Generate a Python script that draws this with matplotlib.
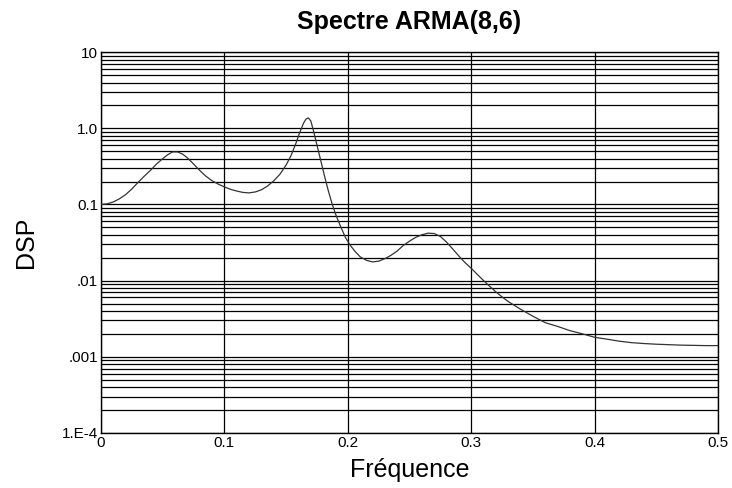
import matplotlib.pyplot as plt
import numpy as np
from matplotlib.ticker import FixedLocator, LogLocator, NullFormatter

plt.rcParams['font.family'] = ['Liberation Sans', 'DejaVu Sans']

# spectre
freq = [0.000, 0.005, 0.010, 0.015, 0.020, 0.025, 0.030, 0.035, 0.040, 0.045,
        0.050, 0.054, 0.058, 0.062, 0.066, 0.070, 0.075, 0.080, 0.085, 0.090,
        0.095, 0.100, 0.105, 0.110, 0.115, 0.120, 0.125, 0.130, 0.135, 0.140,
        0.145, 0.150, 0.154, 0.158, 0.161, 0.164, 0.166, 0.168, 0.170, 0.172,
        0.175, 0.178, 0.181, 0.184, 0.187, 0.190, 0.194, 0.198, 0.202, 0.206,
        0.210, 0.215, 0.220, 0.225, 0.230, 0.235, 0.240, 0.245, 0.250, 0.255,
        0.260, 0.265, 0.270, 0.275, 0.280, 0.285, 0.290, 0.295, 0.300, 0.305,
        0.310, 0.315, 0.320, 0.325, 0.330, 0.340, 0.350, 0.360, 0.370, 0.380,
        0.390, 0.400, 0.410, 0.420, 0.430, 0.440, 0.450, 0.460, 0.470, 0.480,
        0.490, 0.500]
dsp = [0.100, 0.102, 0.108, 0.119, 0.135, 0.160, 0.195, 0.235, 0.28, 0.34,
       0.40, 0.45, 0.49, 0.49, 0.46, 0.41, 0.34, 0.28, 0.235, 0.205,
       0.185, 0.170, 0.158, 0.150, 0.144, 0.142, 0.146, 0.156, 0.175, 0.205,
       0.25, 0.33, 0.44, 0.64, 0.88, 1.16, 1.32, 1.37, 1.25, 0.95,
       0.60, 0.38, 0.24, 0.155, 0.105, 0.075, 0.052, 0.037, 0.029, 0.024,
       0.0205, 0.0185, 0.0176, 0.0180, 0.0194, 0.0215, 0.0245, 0.029, 0.033, 0.037,
       0.040, 0.042, 0.0415, 0.038, 0.032, 0.026, 0.021, 0.0172, 0.0145, 0.0120,
       0.0100, 0.0084, 0.0071, 0.0061, 0.0053, 0.0042, 0.0034, 0.0028, 0.0025, 0.0022,
       0.0020, 0.0018, 0.0017, 0.0016, 0.00153, 0.00149, 0.00146, 0.00144, 0.00142, 0.00141,
       0.00140, 0.00140]

xticks = [0, 0.1, 0.2, 0.3, 0.4, 0.5]
xlabels = ['0', '0.1', '0.2', '0.3', '0.4', '0.5']
yticks = [1e-4, 1e-3, 1e-2, 1e-1, 1, 10]
ylabels = ['1.E-4', '.001', '.01', '0.1', '1.0', '10']

fig = plt.figure(facecolor='white', figsize=(7.32, 4.88), dpi=100)
ax = fig.add_axes([0.138, 0.113, 0.843, 0.780])

ax.set_yscale('log')
ax.set_xlim(0, 0.5)
ax.set_ylim(1e-4, 10)

ax.plot(freq, dsp, color='#333333', lw=0.9, zorder=3)

ax.set_xticks(xticks)
ax.set_xticklabels(xlabels, fontsize=11)
ax.yaxis.set_major_locator(FixedLocator(yticks))
ax.set_yticklabels(ylabels, fontsize=11)
ax.yaxis.set_minor_locator(LogLocator(base=10, subs=np.arange(2, 10)))
ax.yaxis.set_minor_formatter(NullFormatter())
ax.tick_params(length=0, which='both', pad=2)

ax.grid(True, axis='x', which='major', color='black', lw=0.9)
ax.grid(True, axis='y', which='both', color='black', lw=0.9)
ax.set_axisbelow(True)
for sp in ax.spines.values():
    sp.set_color('black')
    sp.set_linewidth(1.0)

ax.set_title('Spectre ARMA(8,6)', fontsize=18, fontweight='bold', pad=17)
ax.set_xlabel('Fréquence', fontsize=18, labelpad=6)
ax.set_ylabel('DSP', fontsize=18, labelpad=17)

fig.savefig('out.png', dpi=100, facecolor='white')
